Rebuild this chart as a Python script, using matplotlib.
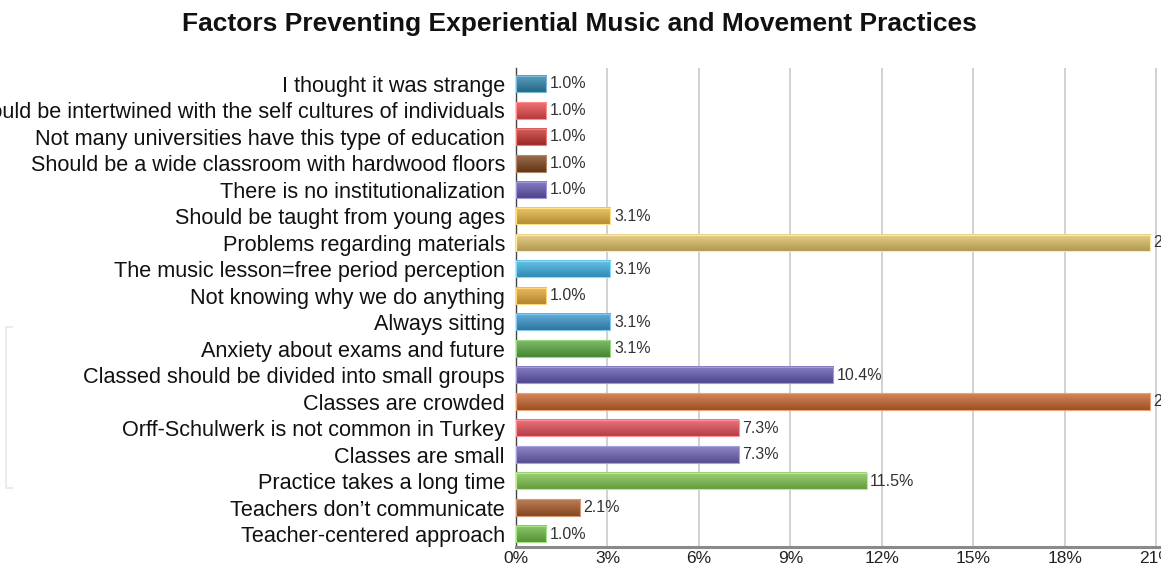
import numpy as np
import matplotlib
matplotlib.use("Agg")
import matplotlib.pyplot as plt
from matplotlib import colors as mcolors

categories = [
    "I thought it was strange",
    "Should be intertwined with the self cultures of individuals",
    "Not many universities have this type of education",
    "Should be a wide classroom with hardwood floors",
    "There is no institutionalization",
    "Should be taught from young ages",
    "Problems regarding materials",
    "The music lesson=free period perception",
    "Not knowing why we do anything",
    "Always sitting",
    "Anxiety about exams and future",
    "Classed should be divided into small groups",
    "Classes are crowded",
    "Orff-Schulwerk is not common in Turkey",
    "Classes are small",
    "Practice takes a long time",
    "Teachers don\u2019t communicate",
    "Teacher-centered approach",
]
values = [1.0, 1.0, 1.0, 1.0, 1.0, 3.1, 20.8, 3.1, 1.0, 3.1, 3.1, 10.4, 20.8, 7.3, 7.3, 11.5, 2.1, 1.0]
bar_colors = [
    "#2f86ad", "#ea4a4c", "#c83431", "#7e451c", "#6459b2", "#e8b640",
    "#e2c46a", "#3db3e3", "#e6a935", "#3a98cf", "#5aab3f", "#665cb5",
    "#c7662c", "#e9505b", "#6e64b8", "#82c64f", "#a95b2a", "#6cbb44",
]
xticks = [0, 3, 6, 9, 12, 15, 18, 21]
title = "Factors Preventing Experiential Music and Movement Practices"

W, H, DPI = 1161, 567, 100
fig = plt.figure(figsize=(W / DPI, H / DPI), dpi=DPI)
fig.patch.set_facecolor("white")

# axes spans past the right edge of the figure so the 21% column is cut off
left_px, right_px, top_px, bottom_px = 516, 1186.6, 68, 547
ax = fig.add_axes([left_px / W, 1 - bottom_px / H,
                   (right_px - left_px) / W, (bottom_px - top_px) / H])
n = len(categories)
ypos = np.arange(n)
bar_h = 0.62
bars = ax.barh(ypos, values, height=bar_h, color=bar_colors,
               edgecolor="none", zorder=3)

# vertical shading on each bar: darker top edge, lighter bottom edge
grad = np.linspace(0, 1, 64).reshape(-1, 1)
for rect, c in zip(bars, bar_colors):
    base = np.array(mcolors.to_rgb(c))
    dark = base * 0.78
    light = base + (1 - base) * 0.22
    shade = np.clip(dark[None, :] * (1 - grad) + light[None, :] * grad, 0, 1)
    x0, y0 = rect.get_x(), rect.get_y()
    w, h = rect.get_width(), rect.get_height()
    ax.imshow(shade.reshape(64, 1, 3), extent=(x0, x0 + w, y0, y0 + h),
              origin="upper", aspect="auto", zorder=3.5, interpolation="bilinear")
    ax.add_patch(plt.Rectangle((x0, y0), w, h, fill=False,
                               edgecolor=tuple(np.clip(light + 0.1, 0, 1)),
                               linewidth=0.8, zorder=4))
    ax.text(x0 + w + 0.12, y0 + h / 2, f"{w:.1f}%", va="center", ha="left",
            fontsize=11.5, color="#333333", family=["Liberation Sans", "DejaVu Sans"],
            zorder=5, clip_on=False)
ax.set_ylim(n - 0.51, -0.6)
ax.set_xlim(0, 22)

ax.set_xticks(xticks)
ax.set_xticklabels([f"{t}%" for t in xticks], fontsize=12.5,
                   family=["Liberation Sans", "DejaVu Sans"], color="#222222")
ax.set_yticks(ypos)
ax.set_yticklabels(categories, fontsize=15.6,
                   family=["Liberation Sans", "DejaVu Sans"], color="#111111")
ax.tick_params(axis="both", length=0, pad=8)
ax.tick_params(axis="x", pad=3)

for t in xticks[1:]:
    ax.axvline(t, color="#cacaca", linewidth=1.2, zorder=1)

for side in ("top", "right"):
    ax.spines[side].set_visible(False)
ax.spines["left"].set_color("#444444")
ax.spines["left"].set_linewidth(1.0)
ax.spines["bottom"].set_color("#8a8a8a")
ax.spines["bottom"].set_linewidth(2.2)

fig.text(579 / W, 1 - 24 / H, title, ha="center", va="center",
         fontsize=19, fontweight="bold",
         family=["Liberation Sans", "DejaVu Sans"], color="#111111")

# faint bracket at the left margin
fig.add_artist(plt.Line2D([12 / W, 6 / W, 6 / W, 12 / W],
                          [1 - 327 / H, 1 - 327 / H, 1 - 488 / H, 1 - 488 / H],
                          color="#ececec", linewidth=1.5))

fig.savefig("out.png", dpi=DPI, facecolor="white")
